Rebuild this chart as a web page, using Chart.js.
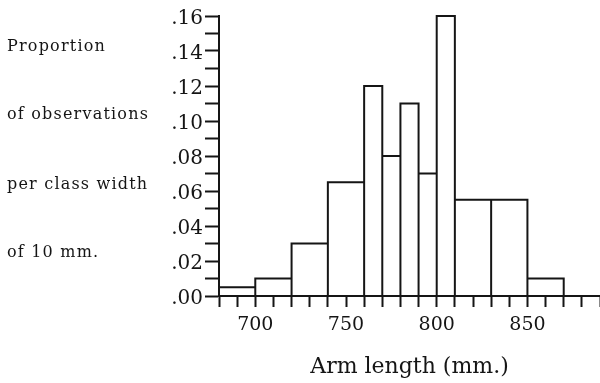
<!DOCTYPE html>
<html><head><meta charset="utf-8">
<script src="https://cdn.jsdelivr.net/npm/chart.js@4"></script>
<style>html,body{margin:0;padding:0;background:#fff}</style>
</head><body>
<canvas id="c" width="600" height="383"></canvas>
<script>
const binEdges = [680, 700, 720, 740, 760, 770, 780, 790, 800, 810, 830, 850, 870];
const proportions = [0.005, 0.01, 0.03, 0.065, 0.12, 0.08, 0.11, 0.07, 0.16, 0.055, 0.055, 0.01];
const xLabelValues = [700, 750, 800, 850];
const yAxisLines = ['Proportion', 'of observations', 'per class width', 'of 10 mm.'];
const xTitle = 'Arm length (mm.)';

const INK = '#151515';
const outline = [];
for (let i = 0; i < proportions.length; i++) {
  const a = binEdges[i], b = binEdges[i + 1], h = proportions[i];
  outline.push({x: a, y: 0}, {x: a, y: h}, {x: b, y: h}, {x: b, y: 0});
}

const leftText = {
  id: 'leftText',
  afterDraw(chart) {
    const ctx = chart.ctx;
    ctx.save();
    ctx.fillStyle = INK;
    ctx.font = '16px "DejaVu Serif"';
    ctx.letterSpacing = '1.2px';
    ctx.textBaseline = 'alphabetic';
    ctx.textAlign = 'left';
    const ys = [51, 119, 189, 257];
    yAxisLines.forEach((t, i) => ctx.fillText(t, 7, ys[i]));
    ctx.restore();
  }
};

new Chart(document.getElementById('c'), {
  type: 'scatter',
  data: { datasets: [{
    data: outline, showLine: true, pointRadius: 0, borderColor: INK,
    borderWidth: 2, fill: false, tension: 0, clip: false
  }]},
  options: {
    responsive: false, animation: false,
    layout: { padding: { top: 16, left: 0, right: 0, bottom: 0 } },
    plugins: { legend: { display: false }, tooltip: { enabled: false } },
    scales: {
      x: {
        type: 'linear', min: 680, max: 890, position: 'bottom',
        afterFit: s => { s.height = 87; },
        ticks: {
          stepSize: 10, autoSkip: false, maxRotation: 0, color: INK, padding: 0,
          font: { family: 'DejaVu Serif', size: 19, lineHeight: 1.9 },
          callback: v => xLabelValues.includes(v) ? String(v) : ''
        },
        grid: { drawOnChartArea: false, drawTicks: true, tickLength: 11, tickWidth: 2, tickColor: INK },
        border: { display: true, color: INK, width: 2 },
        title: { display: true, text: xTitle, color: INK, padding: 3,
          font: { family: 'DejaVu Serif', size: 22 } }
      },
      y: {
        min: 0, max: 0.16,
        afterFit: s => { s.width = 219; },
        ticks: {
          stepSize: 0.01, autoSkip: false, color: INK, padding: 2, labelOffset: 3,
          font: { family: 'DejaVu Serif', size: 20 },
          callback: v => (Math.round(v * 100) % 2 === 0) ? v.toFixed(2).replace(/^0/, '') : ''
        },
        grid: { drawOnChartArea: false, drawTicks: true, tickLength: 14, tickWidth: 2, tickColor: INK },
        border: { display: true, color: INK, width: 2 }
      }
    }
  },
  plugins: [leftText]
});
</script>
</body></html>
